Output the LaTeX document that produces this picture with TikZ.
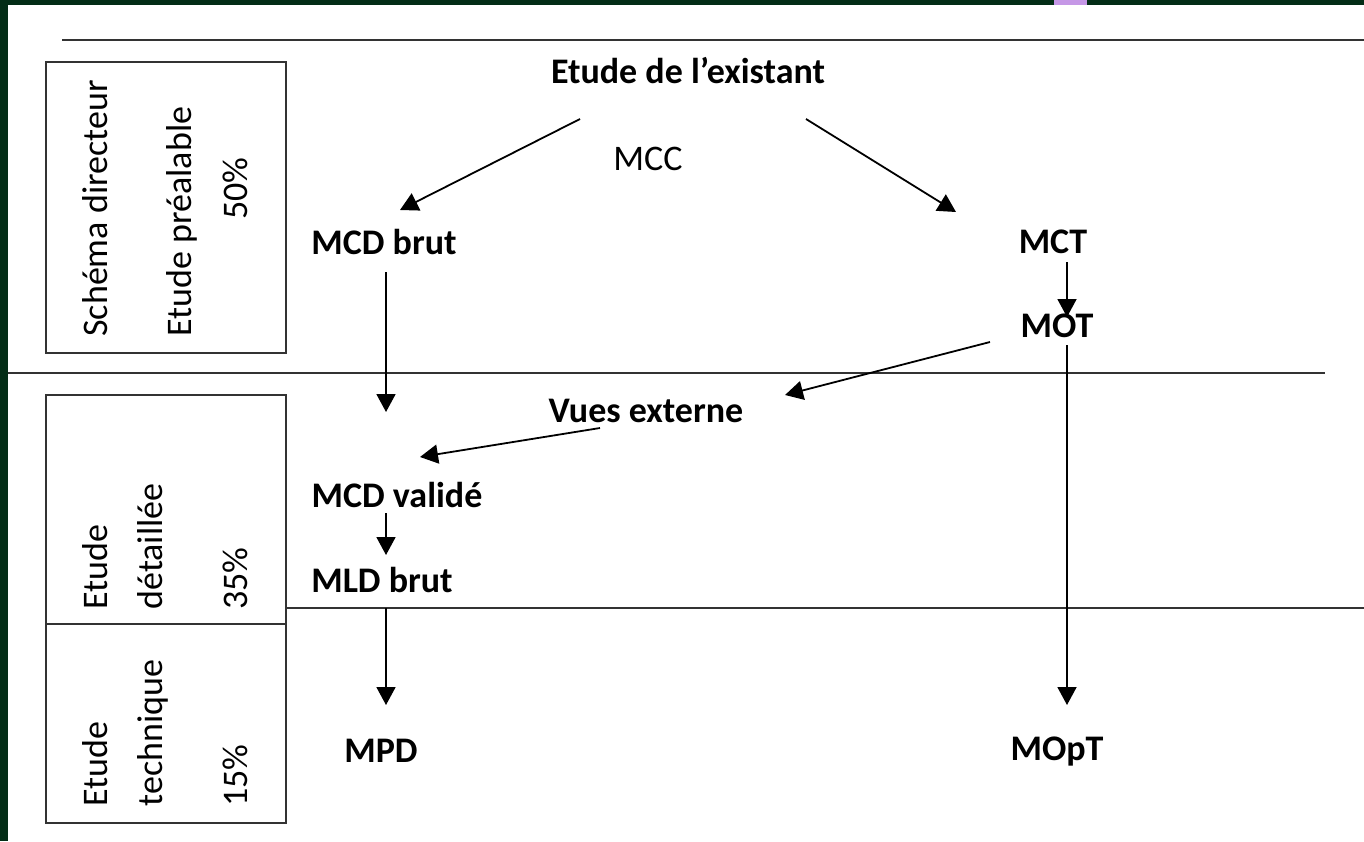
\documentclass[tikz,border=0pt]{standalone}
\usepackage{xcolor}
\usepackage{fontspec}
\setmainfont{Carlito}
\usepackage{tikz}
\usetikzlibrary{arrows.meta, positioning, calc}

\definecolor{frame}{HTML}{032D16}
\definecolor{tab}{HTML}{C597E6}

\begin{document}
\begin{tikzpicture}[
                x=0.5pt, y=-0.5pt,
                model/.style={font=\fontsize{18}{21}\selectfont\bfseries, inner sep=0pt, anchor=base},
                label/.style={font=\fontsize{18}{21}\selectfont, inner sep=0pt, anchor=base},
                phase/.style={font=\fontsize{18}{21}\selectfont, inner sep=0pt, rotate=90, anchor=base west},
                rule/.style={line width=1pt, black!80},
                arr/.style={line width=0.9pt, -{Triangle[length=9pt, width=9.5pt]}}
            ]
                \useasboundingbox (0,0) rectangle (1364,841);
                % Frame
                \fill[white] (0,0) rectangle (1364,841);
                \fill[frame] (0,0) rectangle (8,841);
                \fill[frame] (0,0) rectangle (1364,5);
                \fill[tab] (1054,0) rectangle (1087,5);

                % Separators
                \draw[rule] (62,40) -- (1364,40);
                \draw[rule] (8,373) -- (1325,373);
                \draw[rule] (286,608) -- (1364,608);

                % Phase boxes
                \draw[rule] (46,62) rectangle (286,353);
                \draw[rule] (46,395) rectangle (286,823);
                \draw[rule] (46,624) -- (286,624);
                \node[phase] (sd) at (107,337) {Schéma directeur};
                \node[phase] (ep) at (191,337) {Etude préalable};
                \node[phase] (p50) at (247,220) {50\%};
                \node[phase] (ed1) at (107,610) {Etude};
                \node[phase] (ed2) at (162,610) {détaillée};
                \node[phase] (p35) at (247,610) {35\%};
                \node[phase] (et1) at (107,807) {Etude};
                \node[phase] (et2) at (162,807) {technique};
                \node[phase] (p15) at (247,807) {15\%};

                % Models
                \node[model] (exist) at (688,83) {Etude de l’existant};
                \node[label] (mcc) at (648,170) {MCC};
                \node[model] (mcdbrut) at (384,254) {MCD brut};
                \node[model] (mct) at (1053,253) {MCT};
                \node[model] (mot) at (1057,337) {MOT};
                \node[model] (vues) at (646,422) {Vues externe};
                \node[model] (mcdval) at (397,507) {MCD validé};
                \node[model] (mldbrut) at (382,592) {MLD brut};
                \node[model] (mpd) at (381,762) {MPD};
                \node[model] (mopt) at (1057,760) {MOpT};

                % Flows
                \draw[arr] ($(exist.base)+(-108,36)$) -- ($(mcdbrut.base)+(16,-44)$);
                \draw[arr] ($(exist.base)+(118,36)$) -- ($(mct.base)+(-97,-41)$);
                \draw[arr] ($(mcdbrut.base)+(2,18)$) -- ($(mcdval.base)+(-11,-95)$);
                \draw[arr] ($(mct.base)+(14,9)$) -- ($(mot.base)+(10,-20)$);
                \draw[arr] ($(mot.base)+(-67,5)$) -- ($(vues.base)+(139,-27)$);
                \draw[arr] ($(vues.base)+(-46,6)$) -- ($(mcdval.base)+(23,-50)$);
                \draw[arr] ($(mcdval.base)+(-11,6)$) -- ($(mldbrut.base)+(4,-37)$);
                \draw[arr] ($(mldbrut.base)+(4,16)$) -- ($(mpd.base)+(5,-57)$);
                \draw[arr] ($(mot.base)+(10,8)$) -- ($(mopt.base)+(10,-55)$);
            \end{tikzpicture}
\end{document}
